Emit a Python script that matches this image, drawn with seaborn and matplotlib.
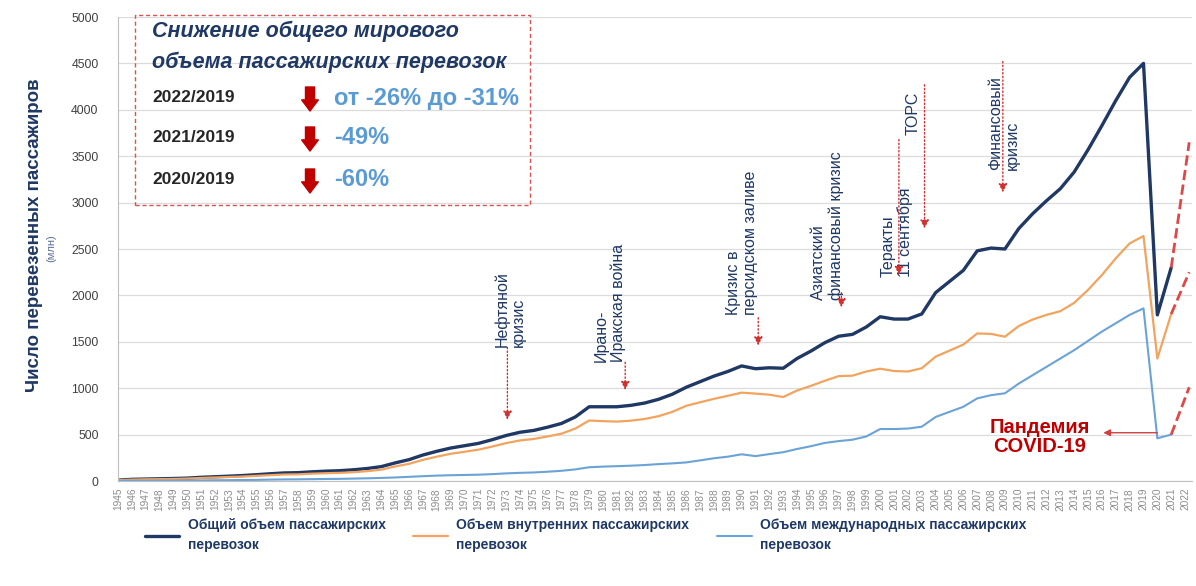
import pandas as pd
import seaborn as sns
import matplotlib.pyplot as plt
from matplotlib.patches import Rectangle

# Passengers carried, millions
years = list(range(1945, 2022))
total = [9, 18, 21, 24, 27, 31, 40, 46, 52, 59,
         68, 78, 87, 90, 99, 106, 111, 121, 135, 155,
         195, 230, 280, 320, 355, 380, 405, 445, 490, 525,
         545, 580, 620, 690, 800, 800, 800, 815, 840, 880,
         935, 1010, 1070, 1130, 1180, 1240, 1210, 1220, 1215, 1320,
         1400, 1490, 1560, 1580, 1660, 1770, 1745, 1745, 1800, 2030,
         2150, 2270, 2480, 2510, 2500, 2720, 2880, 3020, 3150, 3330,
         3570, 3830, 4100, 4350, 4500, 1790, 2300]
domestic = [8, 15, 18, 20, 22, 26, 33, 38, 43, 48,
            56, 63, 70, 72, 79, 84, 88, 95, 106, 122,
            157, 185, 228, 262, 293, 315, 337, 371, 408, 437,
            453, 480, 510, 565, 652, 645, 640, 650, 668, 698,
            745, 810, 848, 885, 918, 952, 942, 930, 905, 975,
            1025, 1080, 1130, 1135, 1180, 1210, 1185, 1180, 1215, 1340,
            1405, 1470, 1590, 1585, 1555, 1670, 1740, 1790, 1830, 1920,
            2060, 2220, 2400, 2560, 2640, 1320, 1800]
international = [1, 3, 3, 4, 5, 5, 7, 8, 9, 11,
                 12, 15, 17, 18, 20, 22, 23, 26, 29, 33,
                 38, 45, 52, 58, 62, 65, 68, 74, 82, 88,
                 92, 100, 110, 125, 148, 155, 160, 165, 172, 182,
                 190, 200, 222, 245, 262, 288, 268, 290, 310, 345,
                 375, 410, 430, 445, 480, 560, 560, 565, 585, 690,
                 745, 800, 890, 925, 945, 1050, 1140, 1230, 1320, 1410,
                 1510, 1610, 1700, 1790, 1860, 460, 500]
tick_years = list(range(1945, 2023))
proj_end_year = 2022.3
proj_values = [3650, 2250, 1010]

series_labels = ["Общий объем пассажирских\nперевозок",
                 "Объем внутренних пассажирских\nперевозок",
                 "Объем международных пассажирских\nперевозок"]

# event label, text x (year), text bottom (value), arrow x (year), arrow start, arrow tip
events = [
    ("Нефтяной\nкризис", 1973.3, 1440, 1973.1, 1440, 660),
    ("Ирано-\nИракская война", 1980.5, 1280, 1981.6, 1280, 980),
    ("Кризис в\nперсидском заливе", 1990.0, 1790, 1991.2, 1760, 1460),
    ("Азиатский\nфинансовый кризис", 1996.2, 1950, 1997.2, 2030, 1870),
    ("Теракты\n11 сентября", 2001.2, 2200, 2001.35, 3680, 2220),
    ("ТОРС", 2002.4, 3730, 2003.2, 4270, 2720),
    ("Финансовый\nкризис", 2008.9, 3350, 2008.85, 4520, 3110),
]

box_rows = ["2022/2019", "2021/2019", "2020/2019"]
box_values = ["от -26% до -31%", "-49%", "-60%"]

navy = "#1f3864"
orange = "#f2a35e"
blue = "#6ba3d6"
red = "#c00000"

sns.set_style("white")
plt.rcParams["font.family"] = ["Liberation Sans", "DejaVu Sans"]

W, H = 1196, 586
fig = plt.figure(figsize=(W / 100, H / 100), dpi=100)
ax = fig.add_axes([118 / W, 1 - 481 / H, (1192 - 118) / W, (481 - 17) / H])


def fx(x):
    return x / W


def fy(y):
    return 1 - y / H


df = pd.DataFrame({"year": years, "total": total,
                   "domestic": domestic, "international": international})
sns.lineplot(data=df, x="year", y="total", color=navy, lw=2.4, ax=ax)
sns.lineplot(data=df, x="year", y="domestic", color=orange, lw=1.6, ax=ax)
sns.lineplot(data=df, x="year", y="international", color=blue, lw=1.5, ax=ax)

# dashed projection for 2022
for vals, proj in zip([total, domestic, international], proj_values):
    ax.plot([years[-1], proj_end_year], [vals[-1], proj],
            ls="--", color="#e04848", lw=2)

ax.set_xlim(1945, 2022.5)
ax.set_ylim(0, 5000)
ax.set_yticks(range(0, 5001, 500))
ax.set_xticks(tick_years)
ax.set_xticklabels([str(y) for y in tick_years], rotation=90,
                   fontsize=7.3, color="#8c8c8c")
ax.tick_params(axis="y", labelsize=8.8, labelcolor="#404040",
               length=5, color="#cfcfcf", pad=9)
ax.tick_params(axis="x", length=3, color="#bfbfbf", pad=2)
ax.grid(axis="y", color="#dcdcdc", lw=0.9)
ax.set_xlabel("")
ax.set_ylabel("")
for s in ["top", "right"]:
    ax.spines[s].set_visible(False)
for s in ["left", "bottom"]:
    ax.spines[s].set_color("#bfbfbf")

# event annotations
for text, tx, ty, axx, a0, a1 in events:
    ax.text(tx, ty, text, rotation=90, ha="center", va="bottom",
            multialignment="left", fontsize=11.5, color=navy,
            linespacing=1.15)
    ax.annotate("", xy=(axx, a1), xytext=(axx, a0),
                arrowprops=dict(arrowstyle="-|>,head_width=0.25,head_length=0.5",
                                color="#d03030", lw=1, ls=":",
                                shrinkA=0, shrinkB=0))

# pandemic
ax.text(2011.5, 475, "Пандемия\nCOVID-19", ha="center", va="center",
        fontsize=14.5, fontweight="bold", color=red, linespacing=1.05)
ax.annotate("", xy=(2016.1, 520), xytext=(2020, 520),
            arrowprops=dict(arrowstyle="-|>,head_width=0.2,head_length=0.4",
                            color="#d04040", lw=1, shrinkA=0, shrinkB=0))

# y label
fig.text(fx(35), fy(235), "Число перевезенных пассажиров", rotation=90,
         ha="center", va="center", fontsize=13.5, fontweight="bold", color=navy)
fig.text(fx(51), fy(248), "(млн)", rotation=90, ha="center", va="center",
         fontsize=8, color="#5a6f9a")

# summary box
fig.add_artist(Rectangle((fx(135), fy(205)), (530 - 135) / W, (205 - 15) / H,
                         transform=fig.transFigure, fill=False,
                         ec="#d9534f", lw=1, ls=(0, (3, 2))))
fig.text(fx(152), fy(31), "Снижение общего мирового", ha="left", va="center",
         fontsize=15.5, fontweight="bold", fontstyle="italic", color=navy)
fig.text(fx(152), fy(62), "объема пассажирских перевозок", ha="left",
         va="center", fontsize=15.5, fontweight="bold", fontstyle="italic",
         color=navy)
for i, (row, val) in enumerate(zip(box_rows, box_values)):
    yy = [98, 138, 180][i]
    fig.text(fx(152), fy(yy), row, ha="left", va="center", fontsize=12.5,
             fontweight="bold", color="#262626")
    fig.text(fx(334), fy(yy), val, ha="left", va="center", fontsize=17,
             fontweight="bold", color="#5b9bd5")
    ax.annotate("", xy=(310, H - yy - 13), xytext=(310, H - yy + 11),
                xycoords="figure pixels", textcoords="figure pixels",
                arrowprops=dict(arrowstyle="simple,head_width=1.2,head_length=0.8,tail_width=0.65",
                                fc=red, ec=red, shrinkA=0, shrinkB=0))

# legend
handles = ax.get_lines()[:3]
leg = fig.legend(handles, series_labels, loc="upper left",
                 bbox_to_anchor=(fx(132), fy(506)), ncol=3, frameon=False,
                 handlelength=2.5, handletextpad=0.6, columnspacing=2.0,
                 labelcolor=navy, prop={"weight": "bold", "size": 10})
for t in leg.get_texts():
    t.set_linespacing(1.5)

fig.savefig("out.png", dpi=100)
